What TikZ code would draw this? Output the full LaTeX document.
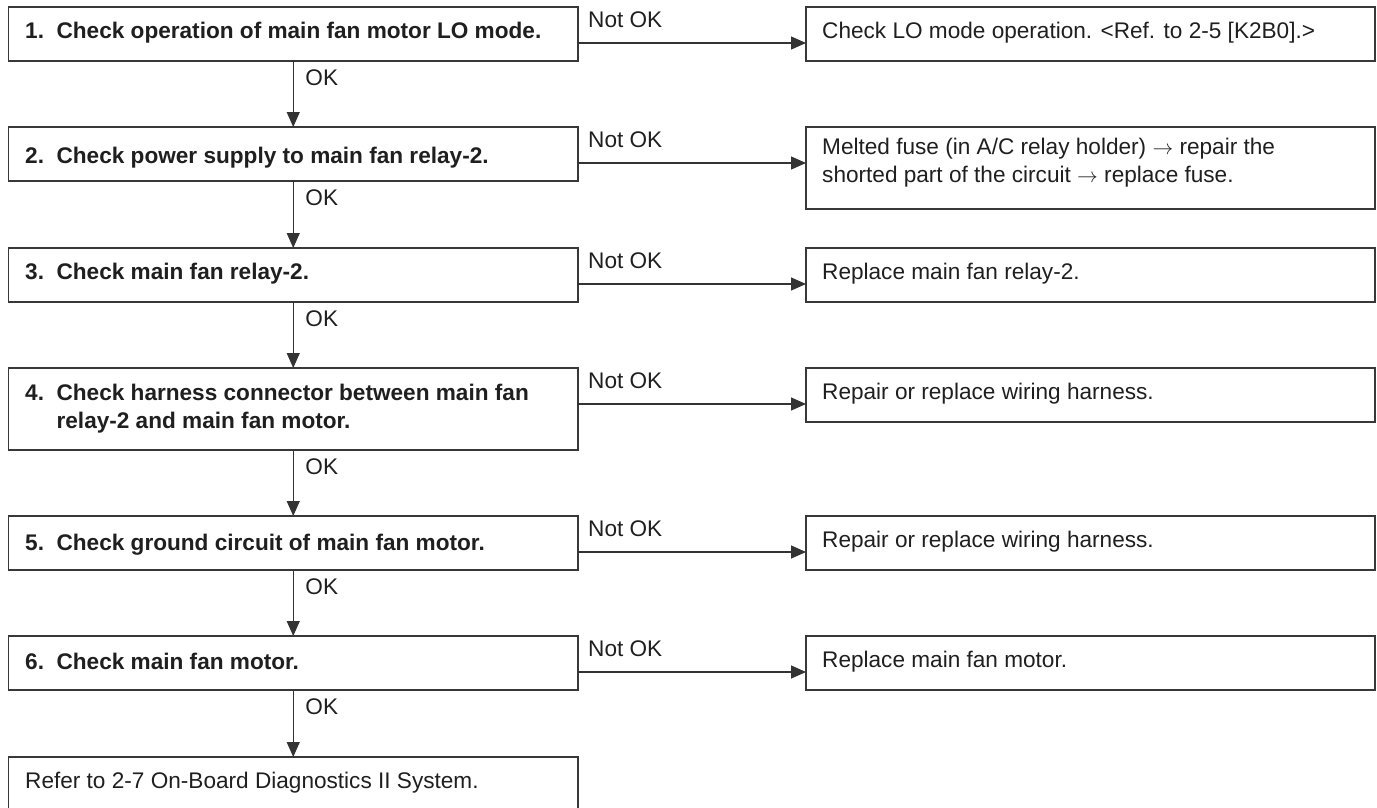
\documentclass[tikz,border=0pt]{standalone}
\usepackage{fontspec}
\setmainfont{Liberation Sans}
\usetikzlibrary{arrows.meta,calc}
\newcommand{\stepno}[1]{\makebox[1.39em][l]{#1}}
\begin{document}
\begin{tikzpicture}[x=1pt,y=-1pt,
  font=\fontsize{22.6pt}{28pt}\selectfont,
  every node/.style={text=black!88},
  box/.style={draw=black!78, line width=1.3pt, anchor=north west, inner sep=0pt, outer sep=0pt, minimum height=54pt},
  lbox/.style={box, minimum width=569.5pt},
  rbox/.style={box, minimum width=569pt},
  txt/.style={anchor=base west, inner sep=0pt, align=left},
  btxt/.style={txt, font=\fontsize{22.6pt}{28pt}\selectfont\bfseries},
  arr/.style={draw=black!80, line width=1.2pt, -{Triangle[length=15pt,width=13pt]}},
  lbl/.style={anchor=base west, inner sep=0pt}]
\useasboundingbox (0,0) rectangle (1377,807);

% left column boxes
\node[lbox] (b1) at (8.5,7) {};
\node[lbox] (b2) at (8.5,127) {};
\node[lbox] (b3) at (8.5,248) {};
\node[lbox, minimum height=82pt] (b4) at (8.5,368) {};
\node[lbox] (b5) at (8.5,516) {};
\node[lbox] (b6) at (8.5,636) {};
\node[lbox] (b7) at (8.5,757) {};

% right column boxes
\node[rbox] (r1) at (806,7) {};
\node[rbox, minimum height=82pt] (r2) at (806,127) {};
\node[rbox] (r3) at (806,248) {};
\node[rbox] (r4) at (806,368) {};
\node[rbox] (r5) at (806,516) {};
\node[rbox] (r6) at (806,636) {};

% left texts
\node[btxt] (t1) at ($(b1.north west)+(16.5,31)$) {\stepno{1.}Check operation of main fan motor LO mode.};
\node[btxt] (t2) at ($(b2.north west)+(16.5,36)$) {\stepno{2.}Check power supply to main fan relay-2.};
\node[btxt] (t3) at ($(b3.north west)+(16.5,31)$) {\stepno{3.}Check main fan relay-2.};
\node[btxt] (t4a) at ($(b4.north west)+(16.5,32)$) {\stepno{4.}Check harness connector between main fan};
\node[btxt] (t4b) at ($(b4.north west)+(16.5,60)$) {\stepno{}relay-2 and main fan motor.};
\node[btxt] (t5) at ($(b5.north west)+(16.5,34)$) {\stepno{5.}Check ground circuit of main fan motor.};
\node[btxt] (t6) at ($(b6.north west)+(16.5,33)$) {\stepno{6.}Check main fan motor.};
\node[txt] (t7) at ($(b7.north west)+(16.5,31)$) {Refer to 2-7 On-Board Diagnostics II System.};

% right texts
\node[txt] (s1) at ($(r1.north west)+(16,31)$) {Check LO mode operation. <Ref. to 2-5 [K2B0].>};
\node[txt] (s2a) at ($(r2.north west)+(16,27)$) {Melted fuse (in A/C relay holder) $\rightarrow$ repair the};
\node[txt] (s2b) at ($(r2.north west)+(16,55)$) {shorted part of the circuit $\rightarrow$ replace fuse.};
\node[txt] (s3) at ($(r3.north west)+(16,31)$) {Replace main fan relay-2.};
\node[txt] (s4) at ($(r4.north west)+(16,31)$) {Repair or replace wiring harness.};
\node[txt] (s5) at ($(r5.north west)+(16,31)$) {Repair or replace wiring harness.};
\node[txt] (s6) at ($(r6.north west)+(16,31)$) {Replace main fan motor.};

% OK connectors
\foreach \a/\b in {b1/b2, b2/b3, b3/b4, b4/b5, b5/b6, b6/b7} {
  \draw[arr] (\a.south) -- (\b.north);
  \node[lbl] (ok-\a) at ($(\a.south)+(12,24)$) {OK};
}

% Not OK connectors
\foreach \a/\b in {b1/r1, b2/r2, b3/r3, b4/r4, b5/r5, b6/r6} {
  \draw[arr] ([yshift=-36pt]\a.north east) -- ([yshift=-36pt]\b.north west);
  \node[lbl] (nok-\a) at ($(\a.north east)+(10,20)$) {Not OK};
}
\end{tikzpicture}
\end{document}
